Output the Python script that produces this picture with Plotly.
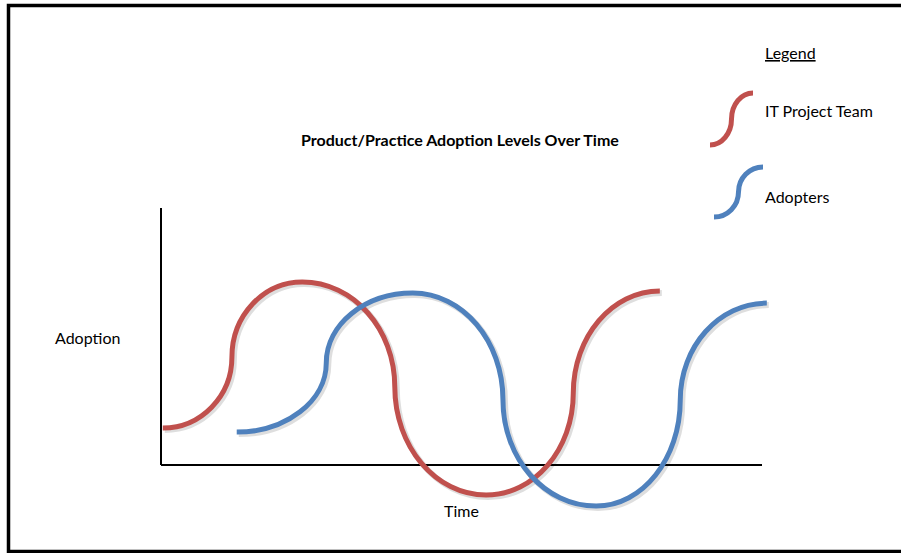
import plotly.graph_objects as go

# ---- data: turning points (troughs/peaks and inflections) ----
# Time units (axis runs 0..100), Adoption units (axis runs 0..100)
red_time = [0.3, 11.8, 23.5, 38.9, 54.1, 68.6, 83.0]
red_adoption = [14.4, 42.0, 71.2, 30.4, -11.7, 28.0, 67.7]

blue_time = [12.6, 27.5, 41.9, 56.9, 72.4, 86.4, 100.8]
blue_adoption = [12.8, 39.7, 66.9, 25.3, -16.0, 25.3, 63.0]

series_names = ["IT Project Team", "Adopters"]
title_text = "Product/Practice Adoption Levels Over Time"
x_label = "Time"
y_label = "Adoption"
legend_title = "Legend"

RED = "#C0504D"
BLUE = "#4F81BD"
W, H = 901, 553
FONT = "Lato"

# pixel scale of the data axes (style / layout)
PX_PER_T = 6.01
PX_PER_A = 2.57
ORIGIN_X, ORIGIN_Y = 161, 465


def px(x):
    return x / W


def py(y):
    return 1 - y / H


K = 0.552  # cubic-bezier quarter-ellipse constant


def arc_path(ts, ys, dx=0.0, dy=0.0):
    """Smooth path through turning points: alternating horizontal-tangent
    (extremum) and vertical-tangent (inflection) points, joined by quarter-ellipse arcs."""
    pts = [(t + dx, y + dy) for t, y in zip(ts, ys)]
    d = f"M {pts[0][0]:.4f},{pts[0][1]:.4f}"
    for i in range(len(pts) - 1):
        (ax, ay), (bx, by) = pts[i], pts[i + 1]
        if i % 2 == 0:  # from extremum (horizontal tangent) to inflection (vertical)
            c1 = (ax + K * (bx - ax), ay)
            c2 = (bx, by + K * (ay - by))
        else:  # from inflection (vertical tangent) to extremum (horizontal)
            c1 = (ax, ay + K * (by - ay))
            c2 = (bx + K * (ax - bx), by)
        d += f" C {c1[0]:.4f},{c1[1]:.4f} {c2[0]:.4f},{c2[1]:.4f} {bx:.4f},{by:.4f}"
    return d


fig = go.Figure()
# anchor traces for the two series (turning points, not shown)
fig.add_trace(go.Scatter(x=red_time, y=red_adoption, mode="markers", name=series_names[0],
                         marker=dict(color=RED, size=1, opacity=0), showlegend=False,
                         hoverinfo="skip"))
fig.add_trace(go.Scatter(x=blue_time, y=blue_adoption, mode="markers", name=series_names[1],
                         marker=dict(color=BLUE, size=1, opacity=0), showlegend=False,
                         hoverinfo="skip"))

shapes = []
# soft drop shadows (2px right, 2px down)
sdx, sdy = 2 / PX_PER_T, -2 / PX_PER_A
for ts, ys in ((red_time, red_adoption), (blue_time, blue_adoption)):
    shapes.append(dict(type="path", xref="x", yref="y", path=arc_path(ts, ys, sdx, sdy),
                       line=dict(color="rgba(0,0,0,0.13)", width=6), layer="below"))
# curves
shapes.append(dict(type="path", xref="x", yref="y", path=arc_path(red_time, red_adoption),
                   line=dict(color=RED, width=5)))
shapes.append(dict(type="path", xref="x", yref="y", path=arc_path(blue_time, blue_adoption),
                   line=dict(color=BLUE, width=5)))
# axes (L shape)
shapes.append(dict(type="line", xref="x", yref="y", x0=0, y0=0, x1=0, y1=100,
                   line=dict(color="black", width=2), layer="below"))
shapes.append(dict(type="line", xref="x", yref="y", x0=0, y0=0, x1=100, y1=0,
                   line=dict(color="black", width=2), layer="below"))
# outer border
shapes.append(dict(type="rect", xref="paper", yref="paper",
                   x0=px(8.5), y0=py(551.5), x1=1.02, y1=py(5.5),
                   line=dict(color="black", width=3.5)))


def s_glyph(x0, y0, x1, y1, color):
    xm, ym = (x0 + x1) / 2, (y0 + y1) / 2
    hw, hh = xm - x0, y0 - ym
    pts = [(x0, y0), (x0 + K * hw, y0), (xm, ym + K * hh), (xm, ym),
           (xm, ym - K * hh), (x1 - K * (x1 - xm), y1), (x1, y1)]
    p = [f"{px(a):.5f},{py(b):.5f}" for a, b in pts]
    path = f"M {p[0]} C {p[1]} {p[2]} {p[3]} C {p[4]} {p[5]} {p[6]}"
    return dict(type="path", xref="paper", yref="paper", path=path,
                line=dict(color=color, width=5))


shapes.append(s_glyph(710, 145, 753, 93, RED))
shapes.append(s_glyph(714, 217, 763, 167, BLUE))

annotations = [
    dict(text=f"<b>{title_text}</b>", x=px(460), y=py(139), xanchor="center", yanchor="middle",
         font=dict(size=16, color="black", family=FONT)),
    dict(text=f"<u>{legend_title}</u>", x=px(763), y=py(53), xanchor="left", yanchor="middle",
         font=dict(size=16, color="black", family=FONT)),
    dict(text=series_names[0], x=px(763), y=py(110), xanchor="left", yanchor="middle",
         font=dict(size=16, color="black", family=FONT)),
    dict(text=series_names[1], x=px(763), y=py(196), xanchor="left", yanchor="middle",
         font=dict(size=16, color="black", family=FONT)),
    dict(text=y_label, x=px(53), y=py(337), xanchor="left", yanchor="middle",
         font=dict(size=16, color="black", family=FONT)),
    dict(text=x_label, x=px(461), y=py(510), xanchor="center", yanchor="middle",
         font=dict(size=16, color="black", family=FONT)),
]
for a in annotations:
    a.update(xref="paper", yref="paper", showarrow=False)

x0_t = -ORIGIN_X / PX_PER_T
x1_t = (W - ORIGIN_X) / PX_PER_T
y0_a = (ORIGIN_Y - H) / PX_PER_A
y1_a = ORIGIN_Y / PX_PER_A

fig.update_layout(
    width=W, height=H,
    margin=dict(l=0, r=0, t=0, b=0),
    paper_bgcolor="white", plot_bgcolor="white",
    xaxis=dict(range=[x0_t, x1_t], visible=False, fixedrange=True),
    yaxis=dict(range=[y0_a, y1_a], visible=False, fixedrange=True),
    shapes=shapes, annotations=annotations, showlegend=False,
)

fig.write_html("out.html", config={"displayModeBar": False},
               post_script="document.body.style.margin='0';document.body.style.overflow='hidden';")
